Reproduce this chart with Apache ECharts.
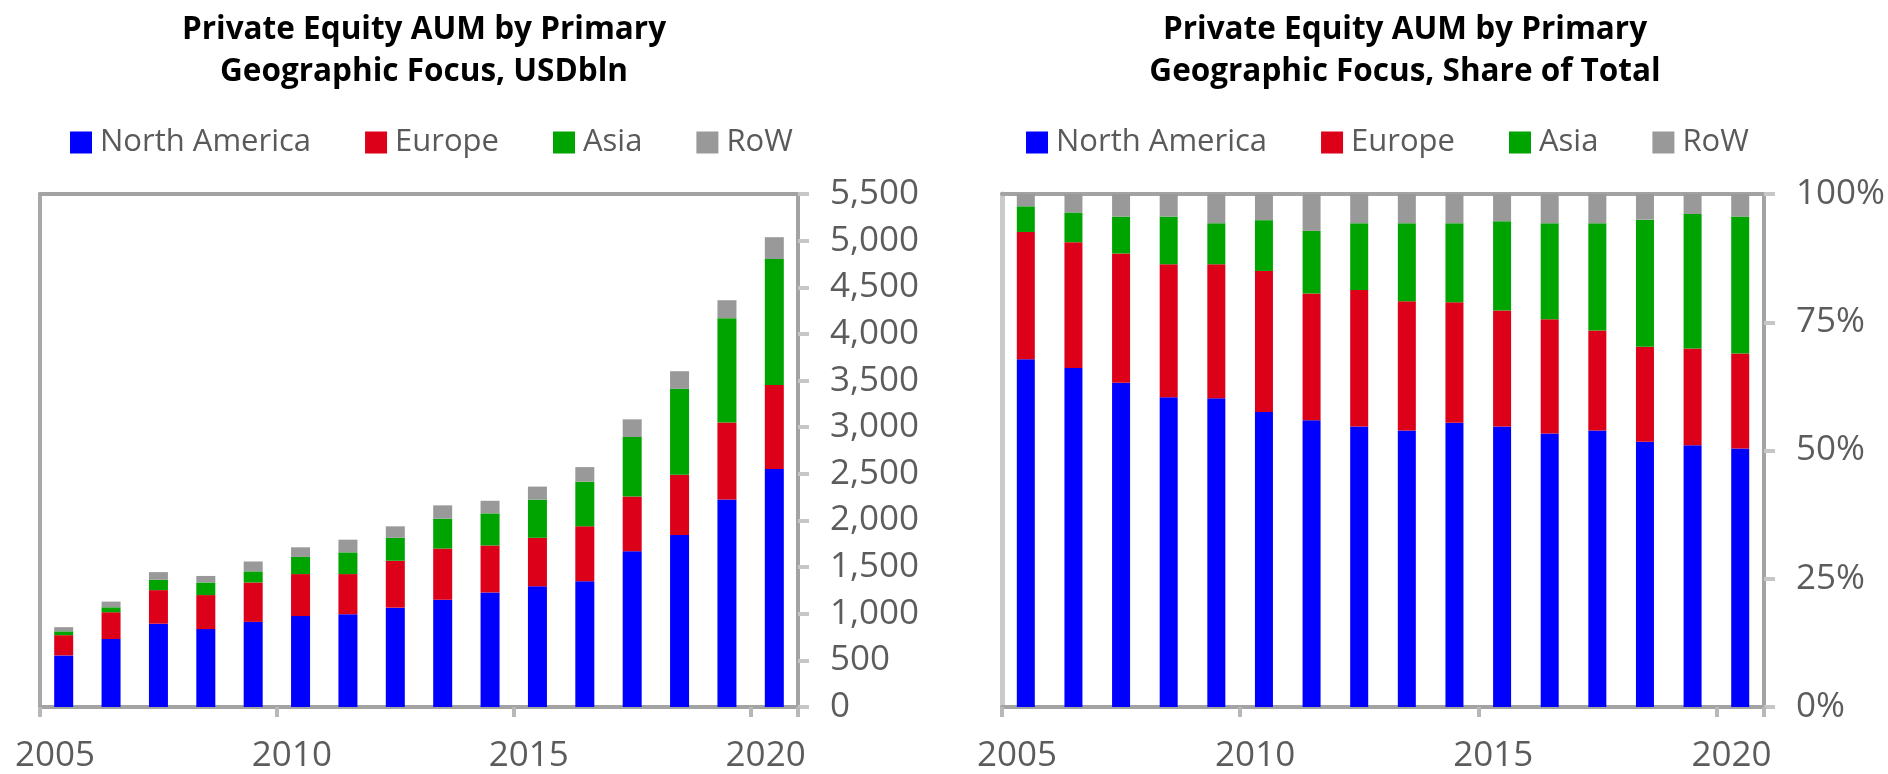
<!DOCTYPE html>
<html>
<head>
    <meta charset="utf-8">
    <title>Private Equity AUM</title>
    <script src="https://cdn.jsdelivr.net/npm/echarts@6/dist/echarts.min.js"></script>
    <style>
        html, body { margin: 0; padding: 0; background: #fff; }
        #main { width: 1888px; height: 774px; }
    </style>
</head>
<body>
<div id="main"></div>
<script>
    // years on the category axis (one bar per year)
    var years = ['2005', '2006', '2007', '2008', '2009', '2010', '2011', '2012',
        '2013', '2014', '2015', '2016', '2017', '2018', '2019', '2020'];
    var yearTicks = [2005, 2010, 2015, 2020];
    var seriesNames = ['North America', 'Europe', 'Asia', 'RoW'];

    // left chart: AUM, USD bln
    var aumNorthAmerica = [553, 729, 893, 835, 913, 975, 995, 1065, 1151, 1228, 1294, 1347, 1671, 1843, 2224, 2551];
    var aumEurope = [217, 287, 360, 365, 422, 450, 430, 503, 548, 504, 520, 590, 585, 647, 827, 901];
    var aumAsia = [41, 53, 111, 135, 119, 184, 233, 246, 320, 344, 410, 479, 639, 921, 1118, 1351];
    var aumRow = [45, 61, 82, 70, 106, 103, 136, 123, 143, 135, 139, 156, 189, 189, 192, 234];

    // right chart: share of total, %
    var shareNorthAmerica = [67.8, 66.1, 63.2, 60.4, 60.2, 57.5, 55.9, 54.7, 53.9, 55.4, 54.7, 53.3, 53.9, 51.7, 51.0, 50.4];
    var shareEurope = [24.8, 24.5, 25.2, 25.9, 26.1, 27.5, 24.7, 26.6, 25.2, 23.5, 22.6, 22.3, 19.5, 18.5, 18.9, 18.5];
    var shareAsia = [5.0, 5.8, 7.2, 9.3, 8.0, 9.9, 12.2, 13.0, 15.2, 15.4, 17.4, 18.7, 20.9, 24.8, 26.2, 26.7];
    var shareRow = [2.4, 3.6, 4.4, 4.4, 5.7, 5.1, 7.2, 5.7, 5.7, 5.7, 5.3, 5.7, 5.7, 5.0, 3.9, 4.4];

    var colors = ['#0000ff', '#dc0019', '#00a400', '#999999'];
    var frameColor = '#a3a3a3';
    var labelColor = '#5c5c5c';
    var labelFont = 'Open Sans';

    var myChart = echarts.init(document.getElementById('main'));

    function yearAxis(grid) {
        return {
            type: 'value', gridIndex: grid, position: 'bottom',
            min: 2005, max: 2021, interval: 5,
            axisLine: {onZero: false, lineStyle: {color: frameColor, width: 4}},
            axisTick: {length: 10, lineStyle: {color: '#b8b8b8', width: 4}},
            splitLine: {show: false},
            axisLabel: {
                margin: 32, color: labelColor, fontFamily: labelFont, fontSize: 35,
                padding: [0, 0, 0, 30], showMaxLabel: true,
                formatter: function (v) { return yearTicks.indexOf(v) >= 0 ? String(v) : ''; }
            }
        };
    }

    function lineAxis(grid, pos, color, width) {
        return {
            type: 'value', gridIndex: grid, position: pos, min: 0, max: 1,
            axisLine: {show: true, onZero: false, lineStyle: {color: color, width: width}},
            axisTick: {show: false}, axisLabel: {show: false}, splitLine: {show: false}
        };
    }

    function valueAxis(grid, max, interval, fmt) {
        return {
            type: 'value', gridIndex: grid, position: 'right',
            min: 0, max: max, interval: interval,
            axisLine: {show: true, onZero: false, lineStyle: {color: frameColor, width: 4}},
            axisTick: {show: true, length: 11, lineStyle: {color: '#c6c6c6', width: 4}},
            splitLine: {show: false},
            axisLabel: {margin: 32, color: labelColor, fontFamily: labelFont, fontSize: 35, formatter: fmt}
        };
    }

    function legend(left) {
        return {
            left: left, top: 122, icon: 'rect', itemWidth: 22, itemHeight: 22, itemGap: 54,
            selectedMode: false, data: seriesNames,
            textStyle: {color: '#5a5a5a', fontFamily: labelFont, fontSize: 31, padding: [0, 0, 0, 3]}
        };
    }

    function barSeries(name, idx, data, axis, stack, width) {
        return {
            name: name, type: 'bar', stack: stack, data: data,
            xAxisIndex: axis, yAxisIndex: axis, barWidth: width,
            itemStyle: {color: colors[idx]}
        };
    }

    var titleStyle = {color: '#000', fontFamily: labelFont, fontWeight: 'bold', fontSize: 31.5, lineHeight: 42};

    var chartOption = {
        animation: false,
        title: [
            {text: 'Private Equity AUM by Primary\nGeographic Focus, USDbln', left: 419, top: 4, textAlign: 'center', textStyle: titleStyle},
            {text: 'Private Equity AUM by Primary\nGeographic Focus, Share of Total', left: 1400, top: 4, textAlign: 'center', textStyle: titleStyle}
        ],
        legend: [legend(65), legend(1021)],
        grid: [
            {left: 40, right: 1090, top: 194, bottom: 63},
            {left: 1002, right: 123, top: 194, bottom: 59}
        ],
        xAxis: [
            {type: 'category', gridIndex: 0, data: years, show: false},
            {type: 'category', gridIndex: 1, data: years, show: false},
            yearAxis(0),
            yearAxis(1),
            lineAxis(0, 'top', frameColor, 4),
            lineAxis(1, 'top', frameColor, 4)
        ],
        yAxis: [
            valueAxis(0, 5500, 500, function (v) { return v.toLocaleString('en-US'); }),
            valueAxis(1, 100, 25, '{value}%'),
            lineAxis(0, 'left', '#a8a8a8', 4),
            lineAxis(1, 'left', '#cacaca', 5)
        ],
        series: [
            barSeries(seriesNames[0], 0, aumNorthAmerica, 0, 'aum', 19),
            barSeries(seriesNames[1], 1, aumEurope, 0, 'aum', 19),
            barSeries(seriesNames[2], 2, aumAsia, 0, 'aum', 19),
            barSeries(seriesNames[3], 3, aumRow, 0, 'aum', 19),
            barSeries(seriesNames[0], 0, shareNorthAmerica, 1, 'share', 18),
            barSeries(seriesNames[1], 1, shareEurope, 1, 'share', 18),
            barSeries(seriesNames[2], 2, shareAsia, 1, 'share', 18),
            barSeries(seriesNames[3], 3, shareRow, 1, 'share', 18)
        ]
    };
    myChart.setOption(chartOption);
</script>
</body>
</html>
